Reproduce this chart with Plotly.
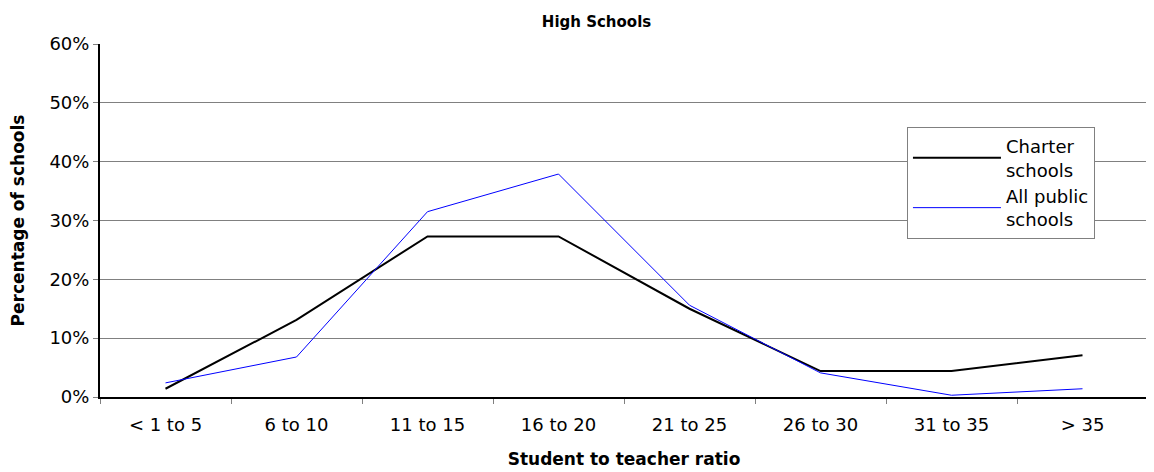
import plotly.graph_objects as go

# Student to teacher ratio buckets
ratios = ["< 1 to 5", "6 to 10", "11 to 15", "16 to 20", "21 to 25", "26 to 30", "31 to 35", "> 35"]

# Share of high schools in each bucket (%)
charter = [1.4, 13.1, 27.3, 27.3, 15.0, 4.4, 4.4, 7.1]
all_public = [2.4, 6.8, 31.5, 37.9, 15.6, 4.1, 0.3, 1.4]

y_ticks = [0, 10, 20, 30, 40, 50, 60]
y_labels = ["0%", "10%", "20%", "30%", "40%", "50%", "60%"]

font_family = "DejaVu Sans"

fig = go.Figure()

fig.add_trace(go.Scatter(
    x=ratios, y=charter, mode="lines",
    name="Charter<br>schools",
    line=dict(color="black", width=2)
))

fig.add_trace(go.Scatter(
    x=ratios, y=all_public, mode="lines",
    name="All public<br>schools",
    line=dict(color="#0000FF", width=1)
))

fig.update_layout(
    width=1154,
    height=472,
    margin=dict(l=92, r=14, t=36, b=83, autoexpand=False),
    paper_bgcolor="white",
    plot_bgcolor="white",
    font=dict(family=font_family, size=18, color="black"),
    title=dict(
        text="<b>High Schools</b>",
        x=0.51, xref="container", xanchor="center",
        y=0.97, yref="container", yanchor="middle",
        font=dict(size=15)
    ),
    showlegend=True,
    legend=dict(
        x=0.77, y=0.765, xanchor="left", yanchor="top",
        bgcolor="white", bordercolor="#808080", borderwidth=1,
        font=dict(size=18),
        itemwidth=88,
        tracegroupgap=8
    ),
    xaxis=dict(
        title=dict(text="<b>Student to teacher ratio</b>", standoff=20, font=dict(size=17)),
        type="category",
        automargin=False,
        showgrid=False,
        showline=True, linecolor="black", linewidth=2,
        ticks="outside", tickson="boundaries", ticklen=5, tickcolor="#808080",
        ticklabelstandoff=10,
        range=[-0.5, 7.5]
    ),
    yaxis=dict(
        title=dict(text="<b>Percentage of schools</b>", standoff=20, font=dict(size=17)),
        automargin=False,
        range=[0, 60],
        tickvals=y_ticks, ticktext=y_labels,
        showgrid=True, gridcolor="#808080", gridwidth=1,
        showline=True, linecolor="black", linewidth=2,
        ticks="outside", ticklen=5, tickcolor="#808080",
        zeroline=False
    )
)

fig.write_html("out.html")
